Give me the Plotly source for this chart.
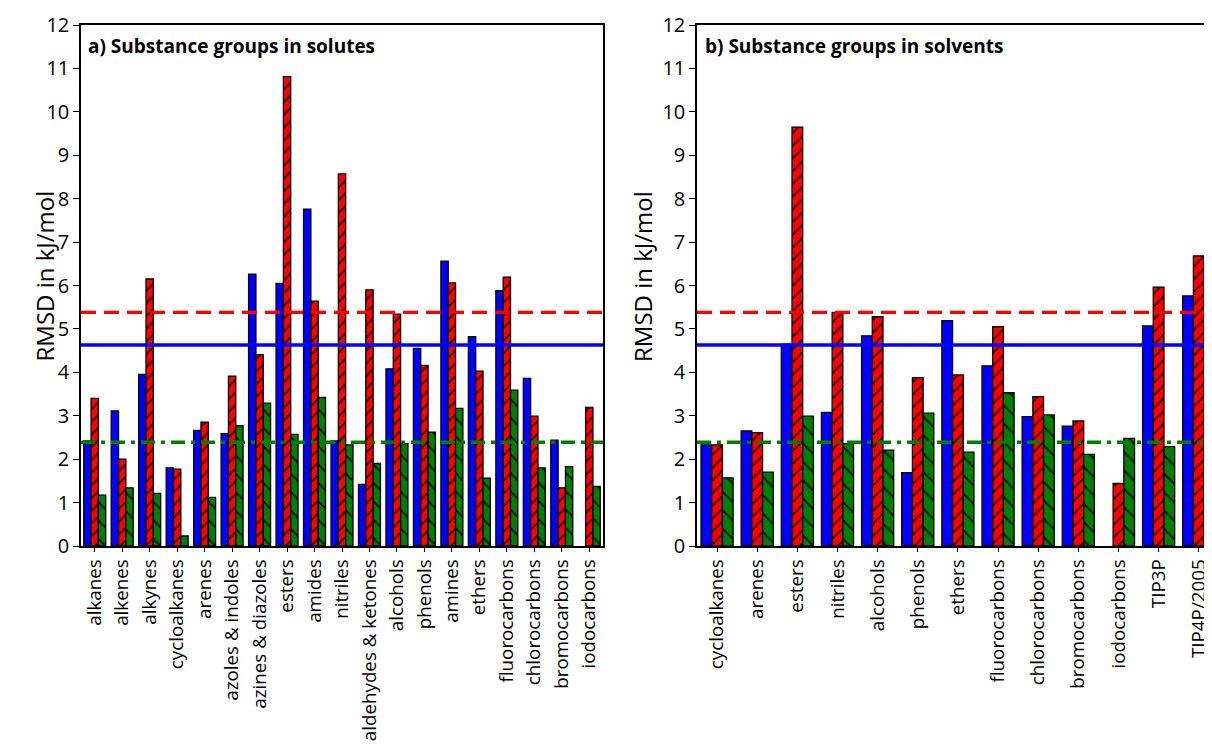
import plotly.graph_objects as go

# ---------------- data ----------------
solute_groups = ["alkanes", "alkenes", "alkynes", "cycloalkanes", "arenes", "azoles & indoles",
                 "azines & diazoles", "esters", "amides", "nitriles", "aldehydes & ketones",
                 "alcohols", "phenols", "amines", "ethers", "fluorocarbons", "chlorocarbons",
                 "bromocarbons", "iodocarbons"]
solute_blue = [2.42, 3.11, 3.95, 1.80, 2.66, 2.59, 6.26, 6.05, 7.76, 2.42, 1.42, 4.08, 4.55,
               6.56, 4.82, 5.88, 3.86, 2.44, None]
solute_red = [3.40, 2.00, 6.15, 1.77, 2.85, 3.91, 4.41, 10.81, 5.64, 8.57, 5.90, 5.34, 4.16,
              6.06, 4.03, 6.19, 2.99, 1.34, 3.19]
solute_green = [1.17, 1.34, 1.21, 0.23, 1.12, 2.77, 3.29, 2.57, 3.42, 2.33, 1.90, 2.36, 2.62,
                3.17, 1.56, 3.59, 1.80, 1.83, 1.37]

solvent_groups = ["cycloalkanes", "arenes", "esters", "nitriles", "alcohols", "phenols", "ethers",
                  "fluorocarbons", "chlorocarbons", "bromocarbons", "iodocarbons", "TIP3P",
                  "TIP4P/2005"]
solvent_blue = [2.33, 2.65, 4.65, 3.08, 4.84, 1.69, 5.19, 4.15, 2.98, 2.76, None, 5.07, 5.76]
solvent_red = [2.33, 2.61, 9.65, 5.38, 5.28, 3.88, 3.94, 5.05, 3.44, 2.88, 1.44, 5.96, 6.68]
solvent_green = [1.57, 1.70, 2.99, 2.36, 2.21, 3.06, 2.16, 3.53, 3.02, 2.11, 2.48, 2.29, 2.46]

mean_red = 5.38
mean_blue = 4.63
mean_green = 2.39

y_ticks = list(range(0, 13))

# ---------------- style ----------------
FONT = "Open Sans"
BLUE = "#0000ff"
RED = "#ff0000"
GREEN = "#008000"
OFF = 8                      # page body margin offset
W, H = 1212 - OFF, 748 - OFF
T = 25 - OFF
B = 748 - 546               # bottom margin (plot bottom at viewport y=546)

fig = go.Figure()


def add_panel(cats, blue, red, green, xa, ya):
    fig.add_trace(go.Bar(x=cats, y=blue, xaxis=xa, yaxis=ya, marker=dict(
        color=BLUE, line=dict(color="black", width=1.3)), showlegend=False))
    fig.add_trace(go.Bar(x=cats, y=red, xaxis=xa, yaxis=ya, marker=dict(
        color=RED, line=dict(color="black", width=1.3),
        pattern=dict(shape="/", fgcolor="black", bgcolor=RED, size=9, solidity=0.17,
                     fillmode="replace")), showlegend=False))
    fig.add_trace(go.Bar(x=cats, y=green, xaxis=xa, yaxis=ya, marker=dict(
        color=GREEN, line=dict(color="black", width=1.3),
        pattern=dict(shape="\\", fgcolor="black", bgcolor=GREEN, size=13, solidity=0.12,
                     fillmode="replace")), showlegend=False))


add_panel(solute_groups, solute_blue, solute_red, solute_green, "x", "y")
add_panel(solvent_groups, solvent_blue, solvent_red, solvent_green, "x2", "y2")

for xd, yr in (("x domain", "y"), ("x2 domain", "y2")):
    fig.add_shape(type="line", xref=xd, yref=yr, x0=0, x1=1, y0=mean_red, y1=mean_red,
                  line=dict(color=RED, width=3.4, dash="15px,8px"))
    fig.add_shape(type="line", xref=xd, yref=yr, x0=0, x1=1, y0=mean_blue, y1=mean_blue,
                  line=dict(color=BLUE, width=3.4))
    fig.add_shape(type="line", xref=xd, yref=yr, x0=0, x1=1, y0=mean_green, y1=mean_green,
                  line=dict(color=GREEN, width=3.4, dash="14px,6px,4px,6px"))

xcommon = dict(type="category", showline=True, linecolor="black", linewidth=1.5,
               ticks="outside", ticklen=4, tickcolor="black", tickwidth=1.3,
               tickangle=-90, tickfont=dict(family=FONT, size=18.8, color="black"),
               showgrid=False, zeroline=False, mirror=True, fixedrange=True,
               automargin=False)
ycommon = dict(range=[0, 12], tickvals=y_ticks, showline=True, linecolor="black",
               linewidth=1.5, ticks="outside", ticklen=6, tickcolor="black", tickwidth=1.3,
               tickfont=dict(family=FONT, size=20, color="black"), showgrid=False,
               zeroline=False, automargin=False)


def px(v):
    return (v - OFF) / W


fig.update_layout(
    width=W, height=H,
    margin=dict(l=0, r=0, t=T, b=B, autoexpand=False),
    paper_bgcolor="white", plot_bgcolor="white",
    barmode="group", bargap=0.2, bargroupgap=0,
    showlegend=False,
    xaxis=dict(xcommon, domain=[px(81), px(603)], range=[-0.5, 18.5], anchor="y"),
    yaxis=dict(ycommon, domain=[0, 1], anchor="x", mirror=True),
    xaxis2=dict(xcommon, domain=[px(697), 1.0], range=[-0.5, 12.33], anchor="y2"),
    yaxis2=dict(ycommon, domain=[0, 1], anchor="x2", mirror=False),
)

ph = H - T - B


def py(pix):
    return (546 - pix) / ph


fig.add_annotation(x=px(25), y=py(276), xref="paper", yref="paper", text="RMSD in kJ/mol",
                   textangle=-90, showarrow=False,
                   font=dict(family=FONT, size=24, color="black"))
fig.add_annotation(x=px(642), y=py(276), xref="paper", yref="paper", text="RMSD in kJ/mol",
                   textangle=-90, showarrow=False,
                   font=dict(family=FONT, size=24, color="black"))
fig.add_annotation(x=px(86), y=py(46), xref="paper", yref="paper",
                   text="<b>a) Substance groups in solutes</b>", xanchor="left", yanchor="middle",
                   showarrow=False, font=dict(family=FONT, size=19, color="black"))
fig.add_annotation(x=px(703), y=py(46), xref="paper", yref="paper",
                   text="<b>b) Substance groups in solvents</b>", xanchor="left",
                   yanchor="middle", showarrow=False,
                   font=dict(family=FONT, size=19, color="black"))

fig.write_html("out.html")
